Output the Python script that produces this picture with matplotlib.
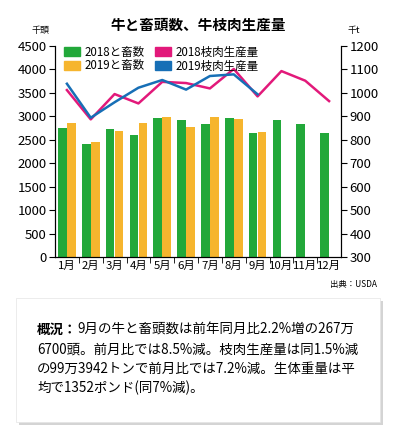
import matplotlib
matplotlib.use("Agg")
import matplotlib.pyplot as plt
from matplotlib.patches import Patch, FancyBboxPatch
import numpy as np

plt.rcParams['font.family'] = ['Noto Sans CJK JP', 'DejaVu Sans']

months = ['1月', '2月', '3月', '4月', '5月', '6月', '7月', '8月', '9月', '10月', '11月', '12月']
slaughter_2018 = [2750, 2416, 2729, 2601, 2964, 2921, 2836, 2964, 2643, 2921, 2836, 2643]
slaughter_2019 = [2857, 2452, 2686, 2857, 2991, 2772, 2991, 2942, 2665]
beef_2018 = [1012, 887, 995, 955, 1047, 1042, 1019, 1102, 985, 1093, 1052, 965]
beef_2019 = [1039, 894, 960, 1022, 1055, 1014, 1072, 1079, 994]

green = '#22a83a'
orange = '#f6b52e'
pink = '#e2197a'
blue = '#176fb6'

fig = plt.figure(figsize=(3.93, 4.33), dpi=100)
fig.patch.set_facecolor('white')
ax = fig.add_axes([55/393, 1-257/433, 286/393, 211/433])

x = np.arange(len(months))
w = 0.36
ax.bar(x[:len(slaughter_2018)] - 0.19, slaughter_2018, width=w, color=green, zorder=2)
ax.bar(x[:len(slaughter_2019)] + 0.19, slaughter_2019, width=w, color=orange, zorder=2)
ax.set_xlim(-0.5, 11.5)
ax.set_ylim(0, 4500)
ax.set_yticks(np.arange(0, 4501, 500))
ax.set_xticks(x)
ax.set_xticklabels(months, fontsize=8.2)
ax.set_xticks(np.arange(0.5, 11.5, 1), minor=True)
ax.tick_params(axis='x', which='major', length=0, pad=3)
ax.tick_params(axis='x', which='minor', length=4, direction='out')
ax.tick_params(axis='y', length=4, direction='out', labelsize=9.5, pad=2)
ax.spines['top'].set_visible(False)

ax2 = ax.twinx()
ax2.plot(x[:len(beef_2018)], beef_2018, color=pink, lw=1.8, zorder=3)
ax2.plot(x[:len(beef_2019)], beef_2019, color=blue, lw=1.8, zorder=4)
ax2.set_ylim(300, 1200)
ax2.set_yticks(np.arange(300, 1201, 100))
ax2.tick_params(axis='y', length=4, direction='out', labelsize=9.5, pad=2)
ax2.spines['top'].set_visible(False)

handles = [Patch(color=green), Patch(color=orange), Patch(color=pink), Patch(color=blue)]
labels = ['2018と畜数', '2019と畜数', '2018枝肉生産量', '2019枝肉生産量']
leg = ax2.legend(handles, labels, ncol=2, loc='upper left', bbox_to_anchor=(0.0, 1.045),
                 frameon=False, fontsize=8.3, handlelength=1.4, handleheight=0.75,
                 handletextpad=0.35, columnspacing=0.9, labelspacing=0.05, borderpad=0.3)

fig.text(198/393, 1-25/433, '牛と畜頭数、牛枝肉生産量', ha='center', va='center',
         fontsize=10.5, fontweight='bold')
fig.text(40/393, 1-31/433, '千頭', ha='center', va='center', fontsize=6.5)
fig.text(354/393, 1-31/433, '千t', ha='center', va='center', fontsize=6.5)
fig.text(377/393, 1-285/433, '出典：USDA', ha='right', va='center', fontsize=6)

# text box with shadow
shadow = FancyBboxPatch((19/393, 1-425/433), 364/393, 124/433, boxstyle='square,pad=0',
                        transform=fig.transFigure, facecolor='#b8b8b8', edgecolor='none',
                        alpha=0.6, zorder=0)
box = FancyBboxPatch((16/393, 1-422/433), 364/393, 124/433, boxstyle='square,pad=0',
                     transform=fig.transFigure, facecolor='white', edgecolor='#e4e4e4',
                     lw=0.5, zorder=1)
fig.patches.extend([shadow, box])

fs = 9.7
x0 = 37/393
t = fig.text(x0, 1-330/433, '概況：', ha='left', va='center', fontsize=fs, fontweight='bold', zorder=3)
fig.canvas.draw()
bb = t.get_window_extent()
fig.text(bb.x1/393, 1-330/433, '9月の牛と畜頭数は前年同月比2.2%増の267万', ha='left', va='center', fontsize=fs, zorder=3)
lines = ['6700頭。前月比では8.5%減。枝肉生産量は同1.5%減',
         'の99万3942トンで前月比では7.2%減。生体重量は平',
         '均で1352ポンド(同7%減)。']
for i, ln in enumerate(lines):
    fig.text(x0, 1-(349.5+19.3*i)/433, ln, ha='left', va='center', fontsize=fs, zorder=3)

fig.savefig('out.png', dpi=100, facecolor='white')
